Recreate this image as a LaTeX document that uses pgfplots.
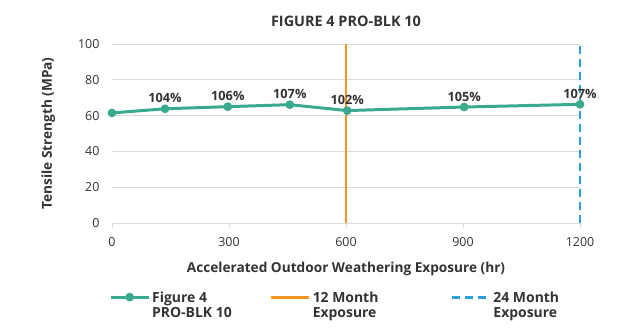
\documentclass[border=0pt]{standalone}
\usepackage{pgfplots}
\pgfplotsset{compat=1.18}
\usepackage{fontspec}
\setmainfont{Open Sans}
\definecolor{teal}{HTML}{3AAA8E}
\definecolor{orng}{HTML}{F7941D}
\definecolor{blu}{HTML}{2A9FDB}
\definecolor{txt}{HTML}{333333}
\definecolor{grd}{HTML}{D9D9D9}
\begin{document}
\begin{tikzpicture}
\begin{axis}[
  name=ax,
  scale only axis,
  width=468bp, height=179bp,
  xmin=0, xmax=1200, ymin=0, ymax=100,
  xtick={0,300,600,900,1200},
  ytick={0,20,40,60,80,100},
  ymajorgrids, grid style={grd, line width=0.8pt},
  axis line style={draw=none},
  xtick style={draw=grd, line width=0.8pt},
  ytick style={draw=none},
  tick align=outside,
  xtick pos=bottom,
  major tick length=5bp,
  ticklabel style={font=\fontsize{12.5}{14}\selectfont, text=txt},
  /pgf/number format/assume math mode=true,
  /pgf/number format/1000 sep={},
  xticklabel style={yshift=-6bp},
  yticklabel style={xshift=-4bp},
  title={\textbf{FIGURE 4 PRO-BLK 10}},
  title style={font=\fontsize{14.5}{16}\selectfont, text=txt, yshift=8bp},
  xlabel={\textbf{Accelerated Outdoor Weathering Exposure (hr)}},
  ylabel={\textbf{Tensile Strength (MPa)}},
  label style={font=\fontsize{13.7}{16}\selectfont, text=txt},
  xlabel style={yshift=-9bp},
  ylabel style={yshift=16bp},
  legend style={at={(0,-0.36)}, anchor=north west, xshift=-6bp, draw=none, fill=none,
    font=\fontsize{14}{15}\selectfont\bfseries, text=txt,
    nodes={align=left},
    /tikz/column 2/.style={column sep=36bp},
    /tikz/column 4/.style={column sep=70bp}},
  legend columns=3,
  legend cell align=left,
  legend image code/.code={\draw[mark repeat=2,mark phase=2] plot coordinates {(0bp,8bp) (19bp,8bp) (38bp,8bp)};},
  clip=false,
]
\addplot[teal, line width=3pt, mark=*, mark size=2.8pt,
  nodes near coords, point meta=explicit symbolic,
  every node near coord/.append style={font=\fontsize{12.8}{14}\selectfont\bfseries, text=txt, anchor=south, yshift=1bp}]
  table[meta=lab] {
x y lab
0 61.5 {}
136 63.8 104\%
297 65.0 106\%
456 66.1 107\%
603 62.8 102\%
903 64.8 105\%
1200 66.3 107\%
};
\addlegendentry{Figure 4\\PRO-BLK 10}
\addplot[orng, line width=3pt] coordinates {(600,0) (600,100)};
\addlegendentry{12 Month\\Exposure}
\addplot[blu, line width=3pt, dash pattern=on 8bp off 5bp] coordinates {(1200,0) (1200,100)};
\addlegendentry{24 Month\\Exposure}
\end{axis}
\pgfresetboundingbox
\useasboundingbox (ax.south west) ++(-112bp,-113bp) rectangle ++(640bp,336bp);
\end{tikzpicture}
\end{document}
